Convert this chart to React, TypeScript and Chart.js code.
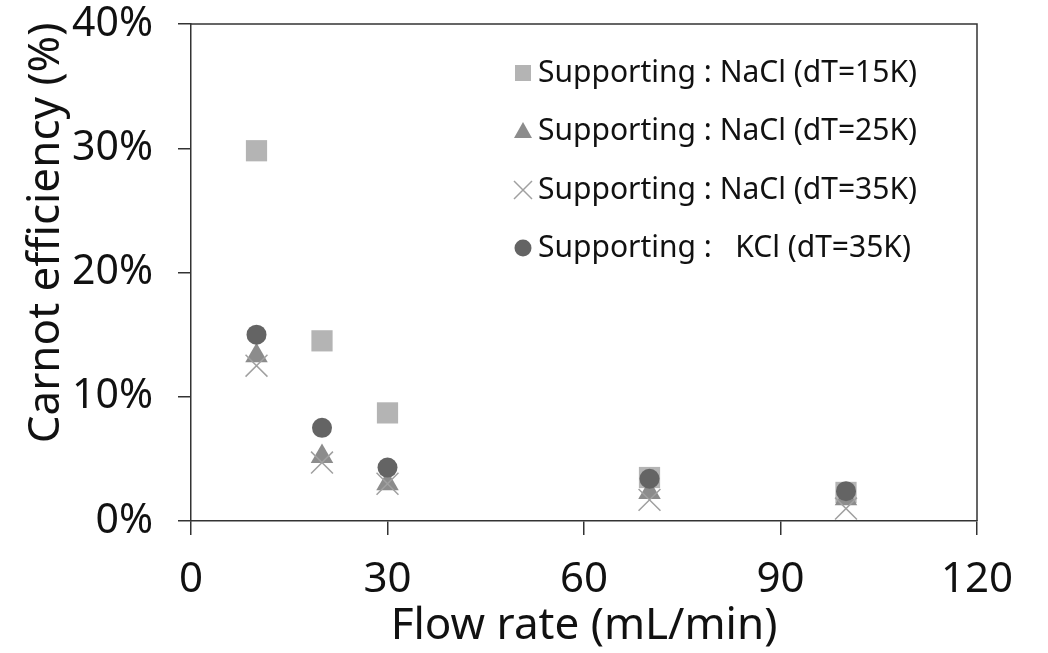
import React, { useEffect, useRef } from "react";
import { Chart, registerables } from "chart.js";

Chart.register(...registerables);

const flowRate = [10, 20, 30, 70, 100];
const naCl15K = [29.8, 14.5, 8.7, 3.5, 2.3];
const naCl25K = [13.3, 5.2, 3.0, 2.3, 1.8];
const naCl35K = [12.5, 4.7, 3.0, 1.7, 1.0];
const kCl35K = [15.0, 7.5, 4.3, 3.4, 2.4];

const seriesLabels = [
  "Supporting : NaCl (dT=15K)",
  "Supporting : NaCl (dT=25K)",
  "Supporting : NaCl (dT=35K)",
  "Supporting :   KCl (dT=35K)",
];
const xTitle = "Flow rate (mL/min)";
const yTitle = "Carnot efficiency (%)";

const FONT = "'Noto Sans', 'Open Sans', sans-serif";
const AXIS = "#333333";

const toPoints = (ys: number[]) => flowRate.map((x, i) => ({ x, y: ys[i] }));

const frameAndLabels = {
  id: "frameAndLabels",
  afterDatasetsDraw(chart: any) {
    const { ctx, chartArea } = chart;
    const { left, right, top, bottom } = chartArea;
    ctx.save();
    ctx.strokeStyle = AXIS;
    ctx.lineWidth = 1.5;
    ctx.beginPath();
    ctx.moveTo(left, top);
    ctx.lineTo(right, top);
    ctx.lineTo(right, bottom);
    ctx.stroke();

    ctx.fillStyle = "#111";
    ctx.font = `44px ${FONT}`;
    ctx.textAlign = "center";
    ctx.textBaseline = "middle";
    ctx.translate(46, 233);
    ctx.rotate(-Math.PI / 2);
    ctx.fillText(yTitle, 0, 0);
    ctx.restore();

    ctx.save();
    const rowY = [73, 131, 190, 248];
    const mx = 523;
    chart.data.datasets.forEach((ds: any, i: number) => {
      const y = rowY[i];
      ctx.save();
      ctx.fillStyle = ds.backgroundColor;
      ctx.strokeStyle = ds.borderColor;
      ctx.lineWidth = ds.borderWidth;
      const style = ds.pointStyle;
      if (style === "rect") {
        ctx.fillRect(mx - 8, y - 8, 16, 16);
      } else if (style === "triangle") {
        ctx.beginPath();
        ctx.moveTo(mx, y - 9);
        ctx.lineTo(mx + 9, y + 7);
        ctx.lineTo(mx - 9, y + 7);
        ctx.closePath();
        ctx.fill();
      } else if (style === "crossRot") {
        ctx.beginPath();
        ctx.moveTo(mx - 9, y - 9);
        ctx.lineTo(mx + 9, y + 9);
        ctx.moveTo(mx + 9, y - 9);
        ctx.lineTo(mx - 9, y + 9);
        ctx.stroke();
      } else {
        ctx.beginPath();
        ctx.arc(mx, y, 8.5, 0, Math.PI * 2);
        ctx.fill();
      }
      ctx.restore();
      ctx.fillStyle = "#111";
      ctx.font = `30px ${FONT}`;
      ctx.textAlign = "left";
      ctx.textBaseline = "middle";
      ctx.fillText(ds.label, 538, y);
    });
    ctx.restore();
  },
};

export default function App() {
  const canvasRef = useRef<HTMLCanvasElement | null>(null);

  useEffect(() => {
    if (!canvasRef.current) return;
    const chart = new Chart(canvasRef.current, {
      type: "scatter",
      data: {
        datasets: [
          {
            label: seriesLabels[0],
            data: toPoints(naCl15K),
            pointStyle: "rect",
            pointRadius: 15,
            backgroundColor: "#b4b4b4",
            borderColor: "#b4b4b4",
            borderWidth: 0,
            order: 4,
          },
          {
            label: seriesLabels[1],
            data: toPoints(naCl25K),
            pointStyle: "triangle",
            pointRadius: 13,
            backgroundColor: "#8c8c8c",
            borderColor: "#8c8c8c",
            borderWidth: 0,
            order: 3,
          },
          {
            label: seriesLabels[2],
            data: toPoints(naCl35K),
            pointStyle: "crossRot",
            pointRadius: 15.5,
            backgroundColor: "#a0a0a0",
            borderColor: "#a0a0a0",
            borderWidth: 1.5,
            order: 2,
          },
          {
            label: seriesLabels[3],
            data: toPoints(kCl35K),
            pointStyle: "circle",
            pointRadius: 10,
            backgroundColor: "#646464",
            borderColor: "#646464",
            borderWidth: 0,
            order: 1,
          },
        ],
      },
      options: {
        responsive: false,
        animation: false,
        layout: { padding: { top: 24, right: 71, left: 0, bottom: 0 } },
        plugins: {
          legend: { display: false },
          tooltip: { enabled: false },
        },
        scales: {
          x: {
            type: "linear",
            min: 0,
            max: 120,
            ticks: {
              stepSize: 30,
              padding: 20,
              color: "#111",
              font: { family: FONT, size: 42 },
              maxRotation: 0,
            },
            grid: {
              drawOnChartArea: false,
              drawTicks: true,
              tickLength: 14,
              color: AXIS,
              lineWidth: 1.5,
            },
            border: { color: AXIS, width: 1.5 },
            title: {
              display: true,
              text: xTitle,
              color: "#111",
              font: { family: FONT, size: 44 },
              padding: { top: 0, bottom: 0 },
            },
            afterFit: (scale: any) => {
              scale.height = 132;
              scale.paddingLeft = 0;
              scale.paddingRight = 0;
            },
          },
          y: {
            type: "linear",
            min: 0,
            max: 40,
            ticks: {
              stepSize: 10,
              padding: 25,
              color: "#111",
              font: { family: FONT, size: 41 },
              callback: (v: any) => `${v}%`,
            },
            grid: {
              drawOnChartArea: false,
              drawTicks: true,
              tickLength: 13,
              color: AXIS,
              lineWidth: 1.5,
            },
            border: { color: AXIS, width: 1.5 },
            afterFit: (scale: any) => {
              scale.width = 191;
              scale.paddingTop = 0;
              scale.paddingBottom = 0;
            },
          },
        },
      },
      plugins: [frameAndLabels],
    });
    return () => chart.destroy();
  }, []);

  return (
    <div style={{ position: "fixed", left: 0, top: 0, width: 1048, height: 653, background: "#fff" }}>
      <canvas ref={canvasRef} width={1048} height={653} />
    </div>
  );
}
